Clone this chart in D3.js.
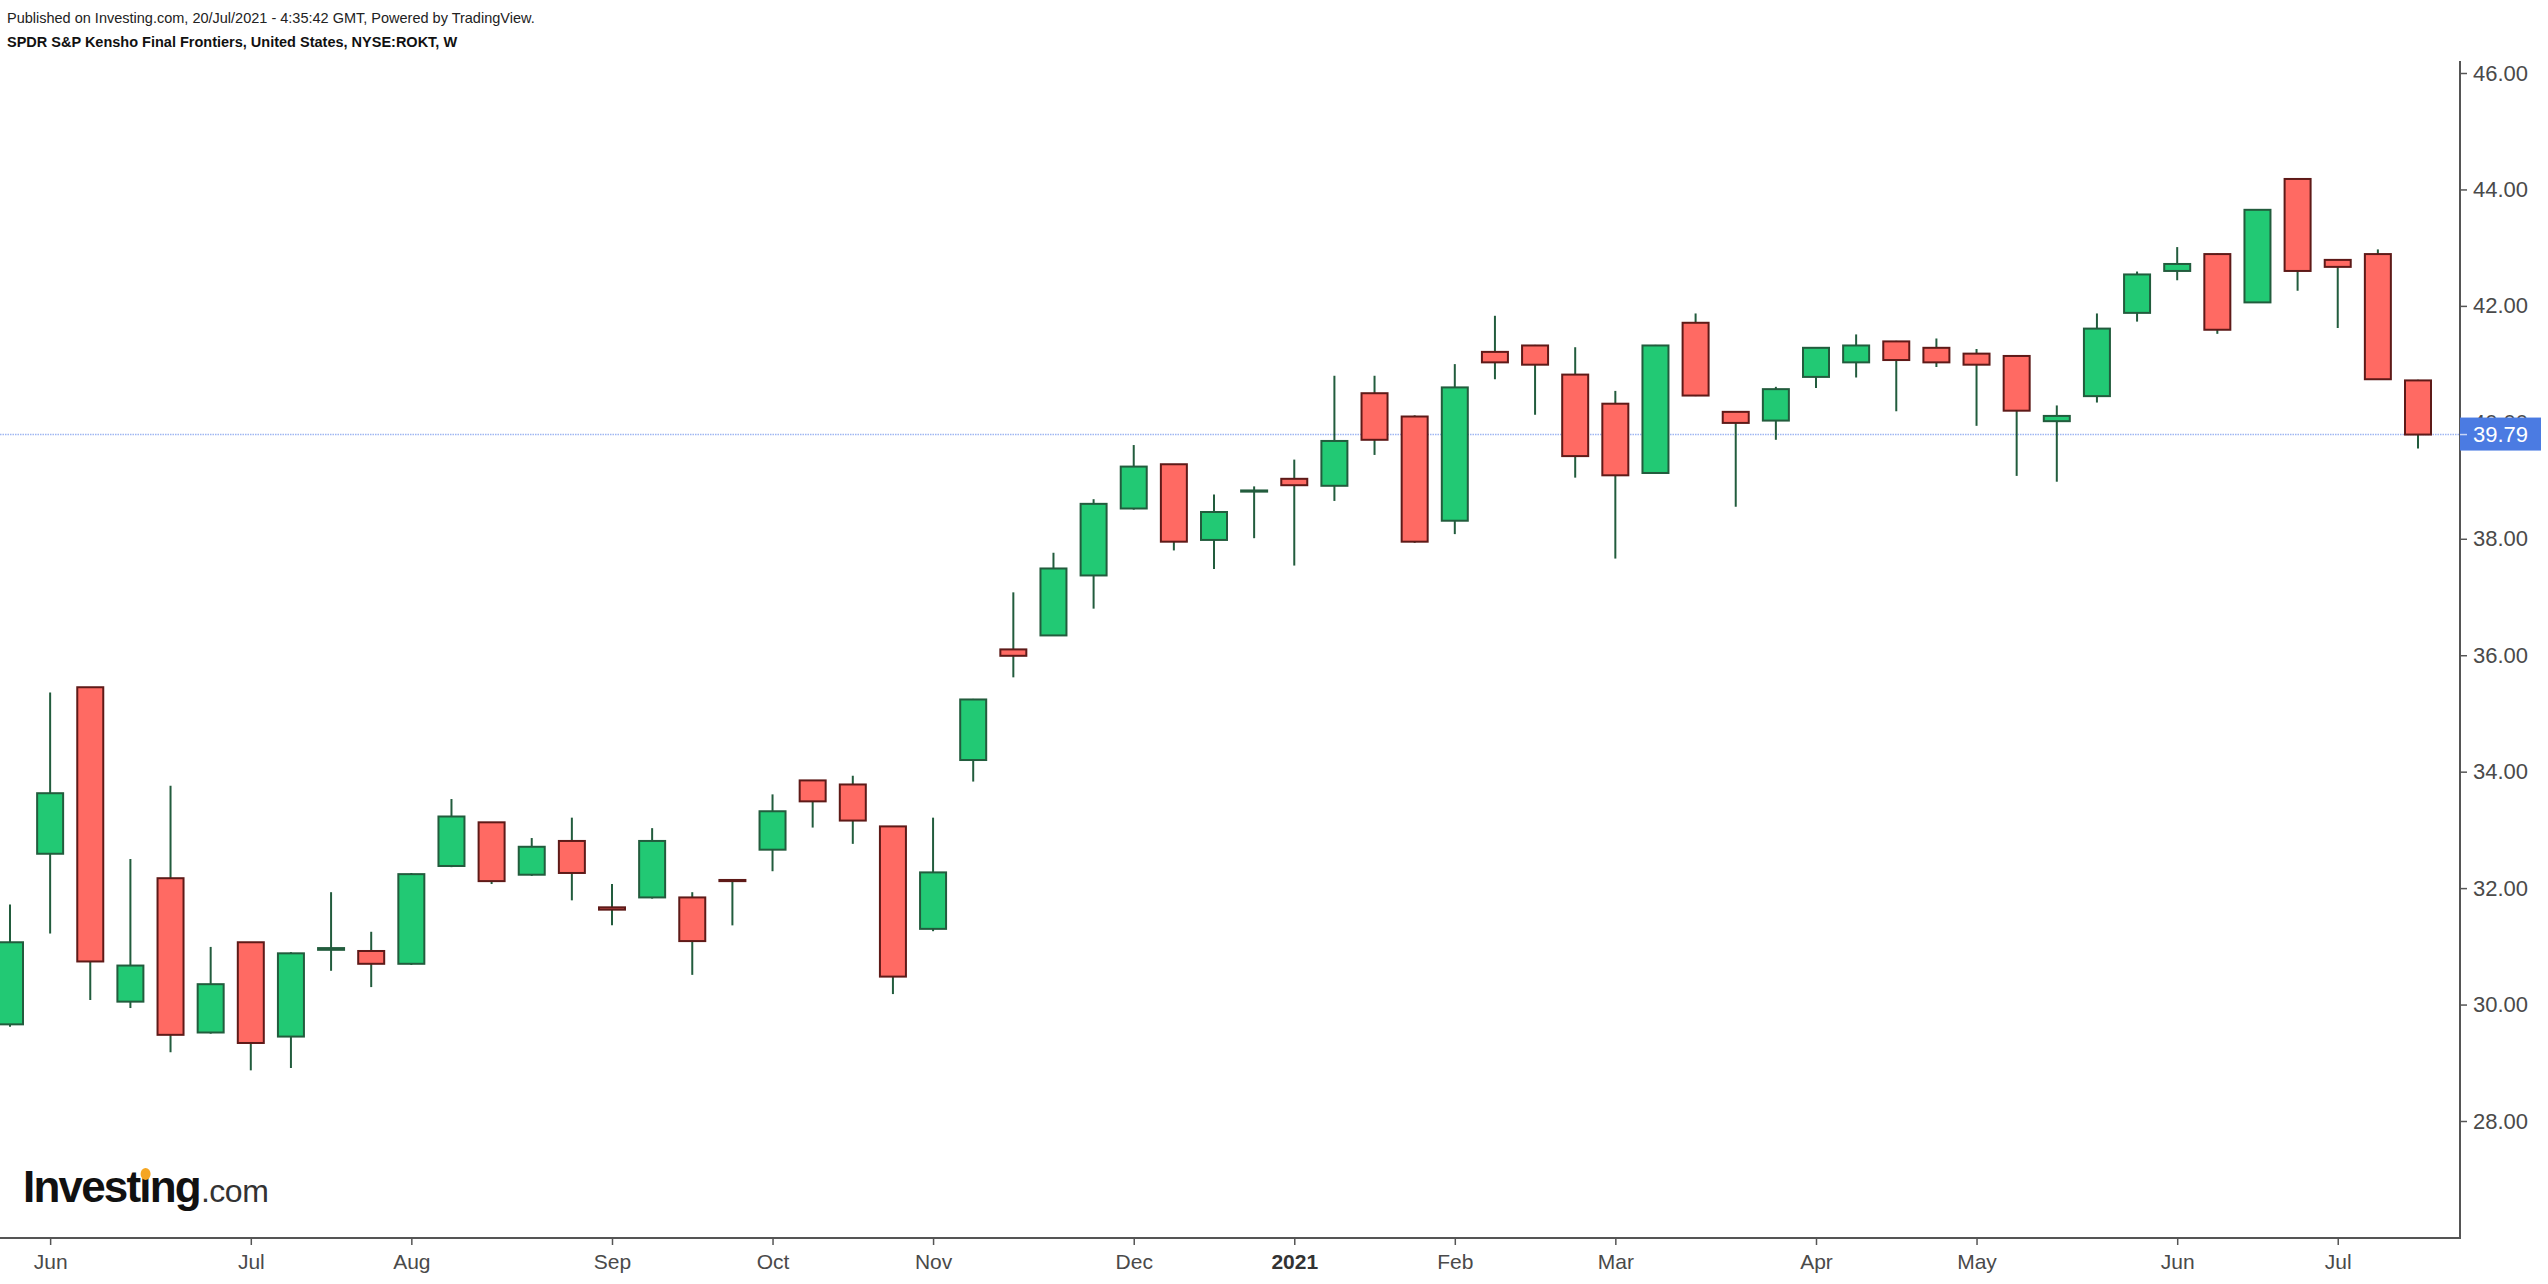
<!DOCTYPE html>
<html>
<head>
<meta charset="utf-8">
<script src="https://cdn.jsdelivr.net/npm/d3@7"></script>
<style>
  html, body { margin: 0; padding: 0; background: #ffffff; }
  svg { display: block; }
</style>
</head>
<body>
<svg id="chart" width="2548" height="1284"></svg>
<script>
// ---- Data (weekly bars, Monday dates) ----
const weekStart = "2020-05-25";
const opens  = [29.66,32.59,35.45,30.05,32.17,29.52,31.07,29.45,30.94,30.92,30.70,32.38,33.13,32.23,32.81,31.67,31.84,31.84,32.14,32.66,33.85,33.78,33.06,31.30,34.20,36.10,36.34,37.37,38.52,39.28,37.98,38.81,39.03,38.91,40.50,40.10,38.31,41.21,41.32,40.82,40.32,39.13,41.71,40.18,40.03,40.78,41.03,41.39,41.28,41.18,41.14,40.02,40.45,41.88,42.60,42.89,42.06,44.18,42.79,42.89,40.72];
const highs  = [31.72,35.36,35.45,32.50,33.76,30.99,31.07,30.90,31.93,31.25,32.26,33.53,33.13,32.86,33.21,32.07,33.03,31.93,32.14,33.61,33.85,33.93,33.06,33.21,35.25,37.08,37.76,38.68,39.61,39.28,38.76,38.90,39.36,40.80,40.80,40.12,41.00,41.83,41.33,41.29,40.54,41.33,41.87,40.19,40.61,41.29,41.51,41.40,41.44,41.26,41.15,40.29,41.87,42.59,43.01,42.90,43.66,44.19,42.80,42.97,40.73];
const lows   = [29.62,31.22,30.08,29.94,29.18,29.50,28.87,28.91,30.58,30.30,30.68,32.36,32.07,32.21,31.79,31.36,31.82,30.51,31.36,32.29,33.04,32.76,30.18,31.26,33.83,35.62,36.33,36.80,38.50,37.80,37.48,38.01,37.54,38.65,39.44,37.93,38.08,40.74,40.13,39.05,37.66,39.12,40.45,38.55,39.70,40.59,40.77,40.19,40.95,39.94,39.08,38.98,40.34,41.73,42.44,41.52,42.05,42.26,41.62,40.73,39.55];
const closes = [31.07,33.63,30.74,30.67,29.48,30.35,29.34,30.88,30.97,30.70,32.24,33.23,32.12,32.71,32.26,31.63,32.81,31.09,32.12,33.32,33.49,33.16,30.48,32.27,35.24,35.99,37.49,38.60,39.24,37.95,38.46,38.83,38.92,39.68,39.70,37.95,40.60,41.03,40.99,39.42,39.09,41.32,40.46,39.99,40.57,41.28,41.32,41.07,41.03,40.99,40.20,40.11,41.61,42.54,42.72,41.59,43.65,42.60,42.67,40.74,39.79];
const yTicks = [28, 30, 32, 34, 36, 38, 40, 42, 44, 46];
const xTickDates  = ["2020-06-01","2020-07-06","2020-08-03","2020-09-07","2020-10-05","2020-11-02","2020-12-07","2021-01-04","2021-02-01","2021-03-01","2021-04-05","2021-05-03","2021-06-07","2021-07-05"];
const xTickLabels = ["Jun","Jul","Aug","Sep","Oct","Nov","Dec","2021","Feb","Mar","Apr","May","Jun","Jul"];
const lastPrice = 39.79;
const headerLine1 = "Published on Investing.com, 20/Jul/2021 - 4:35:42 GMT, Powered by TradingView.";
const headerLine2 = "SPDR S&P Kensho Final Frontiers, United States, NYSE:ROKT, W";

// ---- Build ----
const parse = d3.utcParse("%Y-%m-%d");
const start = parse(weekStart);
const bars = opens.map((o, i) => ({
  date: d3.utcDay.offset(start, 7 * i),
  open: o, high: highs[i], low: lows[i], close: closes[i]
}));

const svg = d3.select("#chart");
const plotRight = 2460, plotTop = 61, plotBottom = 1238;
const font = "Arial, 'Liberation Sans', Helvetica, sans-serif";

const x = d3.scaleUtc()
  .domain([bars[0].date, bars[bars.length - 1].date])
  .range([10, 2418]);
const y = d3.scaleLinear().domain([28, 46]).range([1121, 73]);

const bodyW = 26;

// clip
svg.append("defs").append("clipPath").attr("id", "plotclip")
  .append("rect").attr("x", 0).attr("y", plotTop).attr("width", plotRight).attr("height", plotBottom - plotTop);

// header
svg.append("text").attr("x", 7).attr("y", 23)
  .attr("font-family", font).attr("font-size", 14.5).attr("fill", "#222")
  .text(headerLine1);
svg.append("text").attr("x", 7).attr("y", 47)
  .attr("font-family", font).attr("font-size", 14.5).attr("font-weight", "bold").attr("fill", "#111")
  .text(headerLine2);

const plot = svg.append("g").attr("clip-path", "url(#plotclip)");

// last price dotted line
plot.append("line")
  .attr("x1", 0).attr("x2", plotRight)
  .attr("y1", y(lastPrice)).attr("y2", y(lastPrice))
  .attr("stroke", "#9fb6f2").attr("stroke-width", 1.5).attr("stroke-dasharray", "1.5,1");

// wicks
plot.selectAll("line.wick").data(bars).join("line")
  .attr("class", "wick")
  .attr("x1", d => x(d.date)).attr("x2", d => x(d.date))
  .attr("y1", d => y(d.high)).attr("y2", d => y(d.low))
  .attr("stroke", "#225c3d").attr("stroke-width", 2);

// bodies
plot.selectAll("rect.body").data(bars).join("rect")
  .attr("class", "body")
  .attr("x", d => x(d.date) - bodyW / 2)
  .attr("width", bodyW)
  .attr("y", d => y(Math.max(d.open, d.close)))
  .attr("height", d => Math.max(1, Math.abs(y(d.open) - y(d.close))))
  .attr("fill", d => d.close >= d.open ? "#22c974" : "#ff6a63")
  .attr("stroke", d => d.close >= d.open ? "#225c3d" : "#5e1a18")
  .attr("stroke-width", 2);

// frame lines
svg.append("line").attr("x1", plotRight).attr("x2", plotRight)
  .attr("y1", plotTop).attr("y2", plotBottom)
  .attr("stroke", "#555").attr("stroke-width", 2);
svg.append("line").attr("x1", 0).attr("x2", plotRight + 1)
  .attr("y1", plotBottom).attr("y2", plotBottom)
  .attr("stroke", "#555").attr("stroke-width", 2);

// y axis
const yAxis = d3.axisRight(y).tickValues(yTicks).tickFormat(d3.format(".2f"))
  .tickSize(7).tickPadding(6).tickSizeOuter(0);
const gy = svg.append("g").attr("transform", `translate(${plotRight},0)`).call(yAxis);
gy.select(".domain").remove();
gy.selectAll(".tick line").attr("stroke", "#555").attr("stroke-width", 1.5);
gy.selectAll(".tick text").attr("font-family", font).attr("font-size", 22).attr("fill", "#4a4a4a");

// x axis
const xAxis = d3.axisBottom(x).tickValues(xTickDates.map(parse))
  .tickFormat((d, i) => xTickLabels[i]).tickSize(7).tickPadding(9).tickSizeOuter(0);
const gx = svg.append("g").attr("transform", `translate(0,${plotBottom})`).call(xAxis);
gx.select(".domain").remove();
gx.selectAll(".tick line").attr("stroke", "#555").attr("stroke-width", 1.5);
gx.selectAll(".tick text").attr("font-family", font).attr("font-size", 21)
  .attr("fill", (d, i) => xTickLabels[i] === "2021" ? "#333" : "#4a4a4a")
  .attr("font-weight", (d, i) => xTickLabels[i] === "2021" ? "bold" : "normal");

// last price label (covers the 40.00 tick label, as in the original)
const ly = y(lastPrice);
svg.append("rect").attr("x", plotRight).attr("y", ly - 17).attr("width", 81).attr("height", 33)
  .attr("fill", "#4b7be2");
svg.append("line").attr("x1", plotRight).attr("x2", plotRight + 7).attr("y1", ly).attr("y2", ly)
  .attr("stroke", "#c8d6f7").attr("stroke-width", 1.5);
svg.append("text").attr("x", plotRight + 13).attr("y", ly).attr("dy", "0.35em")
  .attr("font-family", font).attr("font-size", 22).attr("fill", "#ffffff")
  .text(d3.format(".2f")(lastPrice));

// Investing.com logo
const logo = svg.append("g").attr("transform", "translate(23,1202)");
const inv = logo.append("text").attr("x", 0).attr("y", 0)
  .attr("font-family", font).attr("font-size", 44).attr("font-weight", "bold")
  .attr("fill", "#111").attr("letter-spacing", -1.8).text("Investing");
const invW = inv.node().getComputedTextLength();
logo.append("text").attr("x", invW + 1).attr("y", 0)
  .attr("font-family", font).attr("font-size", 32).attr("fill", "#333")
  .attr("letter-spacing", -0.5).text(".com");
// orange dot on the second "i"
try {
  const ext = inv.node().getExtentOfChar(6);
  logo.append("ellipse").attr("cx", ext.x + ext.width / 2 + 1).attr("cy", -28)
    .attr("rx", 5).attr("ry", 6).attr("fill", "#f5a623");
} catch (e) {}
</script>
</body>
</html>
